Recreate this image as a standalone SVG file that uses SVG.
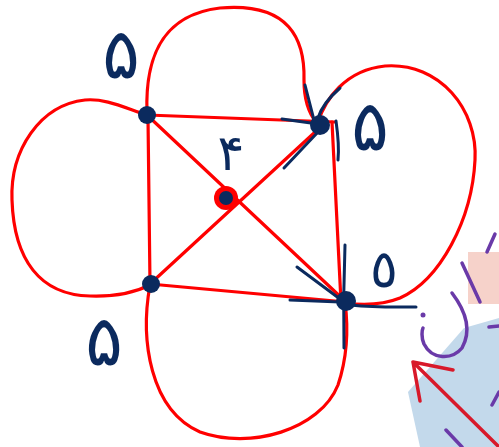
<svg xmlns="http://www.w3.org/2000/svg" width="499" height="447" viewBox="0 0 499 447">
<style>
.e{fill:none;stroke:#f00;stroke-width:3.2;stroke-linecap:round;stroke-linejoin:round}
.b{fill:none;stroke:#0b2a5e;stroke-width:3;stroke-linecap:round}
.n{fill:#0b2a5e}
.lb{font-family:"DejaVu Sans",sans-serif;fill:#0b2a5e}
.p{fill:none;stroke:#6a3aa8;stroke-width:3.5;stroke-linecap:round}
</style>
<rect width="499" height="447" fill="#fff"/>
<g id="decor">
<rect x="468" y="252" width="31" height="52" fill="#f6d2ca"/>
<polygon points="408,392 464,328 499,318 499,447 420,447" fill="#c3d9eb"/>
<path class="p" d="M462,263 L480,302"/>
<path class="p" d="M487,252 L495,234"/>
<path class="p" d="M452,293 C465,310 472,330 462,348 C452,360 432,360 424,344 C421,337 422,330 423,328"/>
<circle cx="423" cy="315" r="2.5" fill="#6a3aa8"/>
<path class="p" d="M489,327 L499,326"/>
<path class="p" d="M492,405 L499,392"/>
<path class="p" d="M446,430 L462,447"/>
<path d="M413,362 L499,447 M413,362 L453,370 M413,362 L420,401" fill="none" stroke="#d8192a" stroke-width="3.5" stroke-linecap="round"/>
</g>
<g id="connectors">
<path class="e" d="M147,113 C145,60 160,15 220,8 C290,2 305,40 304,80 C304,100 308,112 316,122"/>
<path class="e" d="M147,115 C125,108 105,98 85,100 C40,105 10,150 12,200 C14,260 40,295 90,296 C120,297 140,290 150,285"/>
<path class="e" d="M318,122 C325,100 345,70 385,66 C440,62 478,110 475,160 C472,220 440,280 400,298 C380,306 360,305 345,303"/>
<path class="e" d="M150,285 C140,340 150,410 200,432 C250,450 320,430 338,385 C348,355 348,325 345,302"/>
<path class="e" d="M147,115 L335,122"/>
<path class="e" d="M332,122 L341,302"/>
<path class="e" d="M148,118 L150,284"/>
<path class="e" d="M150,284 L346,302"/>
<path class="e" d="M147,115 L346,302"/>
<path class="e" d="M150,284 L326,122"/>
<path class="b" d="M282,119 L318,124 M305,85 L314,120 M340,88 C332,95 322,105 318,118 M284,168 L318,132 M336,121 C338,135 339,150 338,160"/>
<path class="b" d="M345,245 C344,270 343,300 344,348 M297,267 L340,299 M290,300 L340,302 M350,305 C380,308 400,307 416,307"/>
</g>
<g id="n-tl"><circle class="n" cx="147" cy="115" r="9"/></g>
<g id="n-tr"><circle class="n" cx="320" cy="125" r="10"/></g>
<g id="n-bl"><circle class="n" cx="151" cy="284" r="9"/></g>
<g id="n-br"><circle class="n" cx="346" cy="301" r="10"/></g>
<g id="n-c"><circle cx="226" cy="198" r="12" fill="#f00"/><circle class="n" cx="226" cy="198" r="7"/></g>
<g id="labels">
<text class="lb" x="121" y="78" font-size="70" text-anchor="middle">۵</text>
<text class="lb" x="370" y="150" font-size="70" text-anchor="middle">۵</text>
<text class="lb" x="104" y="365" font-size="70" text-anchor="middle">۵</text>
<text class="lb" x="231" y="170" font-size="50" text-anchor="middle">۴</text>
<text class="lb" x="384" y="287" font-size="52" text-anchor="middle">٥</text>
</g>
</svg>
